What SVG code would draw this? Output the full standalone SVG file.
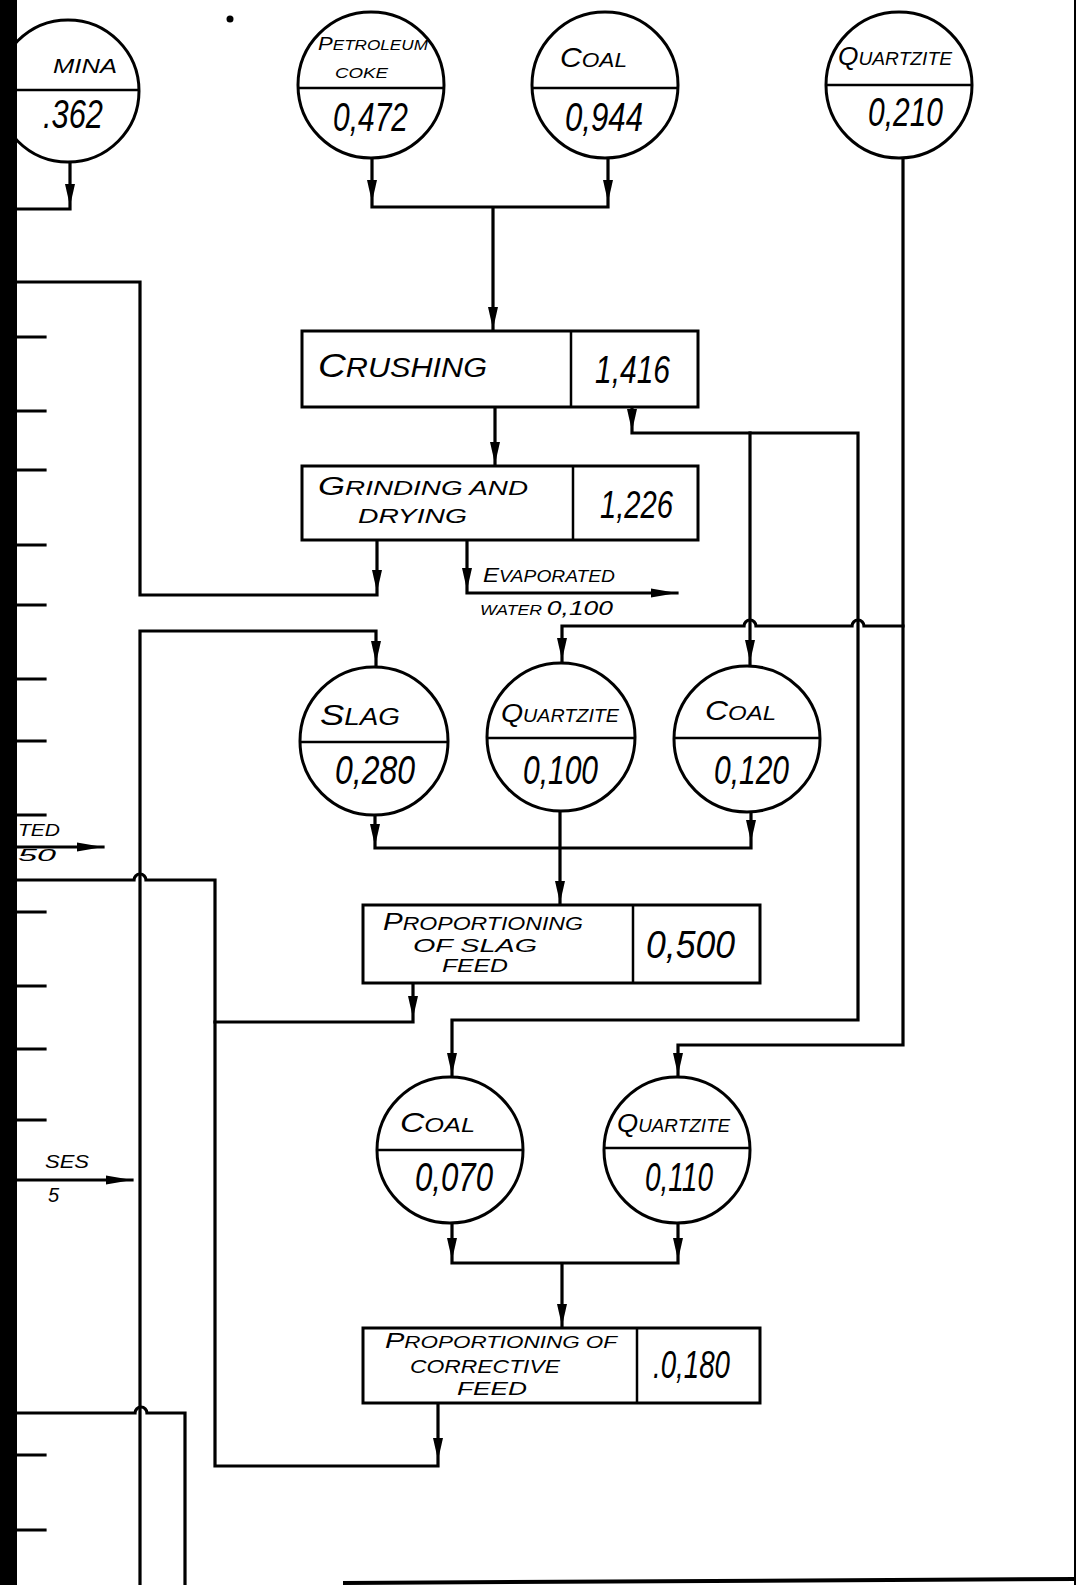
<svg xmlns="http://www.w3.org/2000/svg" xmlns:xlink="http://www.w3.org/1999/xlink" width="1076" height="1585" viewBox="0 0 1076 1585">
<style>
.ln{fill:none;stroke:#000;stroke-width:3.2;stroke-linejoin:miter;stroke-linecap:square}
.nd{fill:#fff;stroke:#000;stroke-width:3}
.dv{stroke:#000;stroke-width:2.5}
.t{font-family:"Liberation Sans",Arial,sans-serif;font-style:italic;fill:#000}
.v{font-size:40px}
.bv{font-size:39px}
</style>
<defs>
<path id="ad" d="M0,0 L-5,-22 L5,-22 Z" fill="#000"/>
<path id="ar" d="M0,0 L-26,-4.5 L-26,4.5 Z" fill="#000"/>
</defs>
<rect width="1076" height="1585" fill="#fff"/>

<g id="connectors">
<path class="ln" d="M70,162 V209 H18"/>
<path class="ln" d="M372,158 V207 H608 M608,158 V207 M493,207 V331"/>
<path class="ln" d="M495,407 V466"/>
<path class="ln" d="M632,407 V433 H858 V1020 H452 V1077"/>
<path class="ln" d="M750,433 V664"/>
<path class="ln" d="M903,158 V1045 H678 V1077"/>
<path class="ln" d="M903,626 H864 a6,6 0 0 0 -12,0 H756 a6,6 0 0 0 -12,0 H562 V663"/>
<path class="ln" d="M377,540 V595 H140 V282 H18"/>
<path class="ln" d="M467,540 V593 H677"/>
<path class="ln" d="M376,666 V631 H140 V1585"/>
<path class="ln" d="M375,814 V848 H751 M751,812 V848 M560,811 V905"/>
<path class="ln" d="M413,983 V1022 H215"/>
<path class="ln" d="M18,880 H134 a6,6 0 0 1 12,0 H215 V1466 H438 V1403"/>
<path class="ln" d="M452,1223 V1263 H678 M678,1223 V1263 M562,1263 V1328"/>
<path class="ln" d="M18,1413 H135 a6,6 0 0 1 12,0 H185 V1585"/>
<path class="ln" d="M18,847 H103 M18,1180 H132"/>
<path class="ln" d="M18,337 H45 M18,411 H45 M18,470 H45 M18,545 H45 M18,605 H45 M18,679 H45 M18,741 H45 M18,815 H45 M18,912 H45 M18,986 H45 M18,1049 H45 M18,1120 H45 M18,1455 H45 M18,1530 H45"/>
<use href="#ad" x="70" y="206"/>
<use href="#ad" x="372" y="202"/>
<use href="#ad" x="608" y="202"/>
<use href="#ad" x="493" y="329"/>
<use href="#ad" x="495" y="464"/>
<use href="#ad" x="632" y="431"/>
<use href="#ad" x="377" y="592"/>
<use href="#ad" x="467" y="590"/>
<use href="#ar" x="677" y="593"/>
<use href="#ad" x="376" y="663"/>
<use href="#ad" x="562" y="660"/>
<use href="#ad" x="750" y="662"/>
<use href="#ad" x="375" y="846"/>
<use href="#ad" x="751" y="842"/>
<use href="#ad" x="560" y="903"/>
<use href="#ad" x="413" y="1018"/>
<use href="#ad" x="452" y="1075"/>
<use href="#ad" x="678" y="1075"/>
<use href="#ad" x="452" y="1260"/>
<use href="#ad" x="678" y="1260"/>
<use href="#ad" x="562" y="1326"/>
<use href="#ad" x="438" y="1460"/>
<use href="#ar" x="103" y="847"/>
<use href="#ar" x="132" y="1180"/>
</g>

<g id="alumina">
<circle class="nd" cx="68" cy="91" r="71"/>
<line class="dv" x1="-3" y1="90" x2="139" y2="90"/>
<text class="t" x="53" y="73" font-size="21" textLength="64" lengthAdjust="spacingAndGlyphs">MINA</text>
<text class="t v" x="43" y="128" textLength="60" lengthAdjust="spacingAndGlyphs">.362</text>
</g>

<g id="petroleum-coke">
<circle class="nd" cx="371" cy="85" r="73"/>
<line class="dv" x1="298" y1="88" x2="444" y2="88"/>
<text class="t" x="318" y="50" textLength="110" lengthAdjust="spacingAndGlyphs"><tspan font-size="18">P</tspan><tspan font-size="14">ETROLEUM</tspan></text>
<text class="t" x="335" y="78" font-size="15" textLength="53" lengthAdjust="spacingAndGlyphs">COKE</text>
<text class="t v" x="333" y="131" textLength="75" lengthAdjust="spacingAndGlyphs">0,472</text>
</g>

<g id="coal-top">
<circle class="nd" cx="605" cy="85" r="73"/>
<line class="dv" x1="532" y1="88" x2="678" y2="88"/>
<text class="t" x="560" y="67" textLength="67" lengthAdjust="spacingAndGlyphs"><tspan font-size="28">C</tspan><tspan font-size="21">OAL</tspan></text>
<text class="t v" x="565" y="131" textLength="78" lengthAdjust="spacingAndGlyphs">0,944</text>
</g>

<g id="quartzite-top">
<circle class="nd" cx="899" cy="85" r="73"/>
<line class="dv" x1="826" y1="85" x2="972" y2="85"/>
<text class="t" x="838" y="65" textLength="114" lengthAdjust="spacingAndGlyphs"><tspan font-size="26">Q</tspan><tspan font-size="19">UARTZITE</tspan></text>
<text class="t v" x="868" y="126" textLength="75" lengthAdjust="spacingAndGlyphs">0,210</text>
</g>

<g id="crushing">
<rect class="nd" x="302" y="331" width="396" height="76"/>
<line class="dv" x1="571" y1="331" x2="571" y2="407"/>
<text class="t" x="318" y="377" textLength="169" lengthAdjust="spacingAndGlyphs"><tspan font-size="34">C</tspan><tspan font-size="27">RUSHING</tspan></text>
<text class="t bv" x="595" y="383" textLength="75" lengthAdjust="spacingAndGlyphs">1,416</text>
</g>

<g id="grinding-drying">
<rect class="nd" x="302" y="466" width="396" height="74"/>
<line class="dv" x1="573" y1="466" x2="573" y2="540"/>
<text class="t" x="318" y="495" textLength="210" lengthAdjust="spacingAndGlyphs"><tspan font-size="25">G</tspan><tspan font-size="20">RINDING   AND</tspan></text>
<text class="t" x="358" y="523" font-size="20" textLength="109" lengthAdjust="spacingAndGlyphs">DRYING</text>
<text class="t bv" x="600" y="518" textLength="73" lengthAdjust="spacingAndGlyphs">1,226</text>
</g>

<g id="evaporated-water">
<text class="t" x="483" y="582" textLength="132" lengthAdjust="spacingAndGlyphs"><tspan font-size="20">E</tspan><tspan font-size="16">VAPORATED</tspan></text>
<text class="t" x="480" y="615" textLength="133" lengthAdjust="spacingAndGlyphs"><tspan font-size="14">WATER </tspan><tspan font-size="21">0,100</tspan></text>
</g>

<g id="slag">
<circle class="nd" cx="374" cy="741" r="74"/>
<line class="dv" x1="300" y1="742" x2="448" y2="742"/>
<text class="t" x="320" y="725" textLength="80" lengthAdjust="spacingAndGlyphs"><tspan font-size="30">S</tspan><tspan font-size="23">LAG</tspan></text>
<text class="t v" x="335" y="784" textLength="80" lengthAdjust="spacingAndGlyphs">0,280</text>
</g>

<g id="quartzite-mid">
<circle class="nd" cx="561" cy="737" r="74"/>
<line class="dv" x1="487" y1="738" x2="635" y2="738"/>
<text class="t" x="501" y="722" textLength="118" lengthAdjust="spacingAndGlyphs"><tspan font-size="26">Q</tspan><tspan font-size="18">UARTZITE</tspan></text>
<text class="t v" x="523" y="784" textLength="75" lengthAdjust="spacingAndGlyphs">0,100</text>
</g>

<g id="coal-mid">
<circle class="nd" cx="747" cy="739" r="73"/>
<line class="dv" x1="674" y1="738" x2="820" y2="738"/>
<text class="t" x="705" y="720" textLength="71" lengthAdjust="spacingAndGlyphs"><tspan font-size="28">C</tspan><tspan font-size="21">OAL</tspan></text>
<text class="t v" x="714" y="784" textLength="75" lengthAdjust="spacingAndGlyphs">0,120</text>
</g>

<g id="slag-feed">
<rect class="nd" x="363" y="905" width="397" height="78"/>
<line class="dv" x1="633" y1="905" x2="633" y2="983"/>
<text class="t" x="383" y="930" textLength="200" lengthAdjust="spacingAndGlyphs"><tspan font-size="23">P</tspan><tspan font-size="18">ROPORTIONING</tspan></text>
<text class="t" x="413" y="952" font-size="18" textLength="124" lengthAdjust="spacingAndGlyphs">OF   SLAG</text>
<text class="t" x="442" y="972" font-size="18" textLength="66" lengthAdjust="spacingAndGlyphs">FEED</text>
<text class="t bv" x="646" y="958" textLength="89" lengthAdjust="spacingAndGlyphs">0,500</text>
</g>

<g id="coal-bottom">
<circle class="nd" cx="450" cy="1150" r="73"/>
<line class="dv" x1="377" y1="1150" x2="523" y2="1150"/>
<text class="t" x="400" y="1132" textLength="75" lengthAdjust="spacingAndGlyphs"><tspan font-size="28">C</tspan><tspan font-size="21">OAL</tspan></text>
<text class="t v" x="415" y="1191" textLength="78" lengthAdjust="spacingAndGlyphs">0,070</text>
</g>

<g id="quartzite-bottom">
<circle class="nd" cx="677" cy="1150" r="73"/>
<line class="dv" x1="604" y1="1148" x2="750" y2="1148"/>
<text class="t" x="617" y="1132" textLength="113" lengthAdjust="spacingAndGlyphs"><tspan font-size="26">Q</tspan><tspan font-size="18">UARTZITE</tspan></text>
<text class="t v" x="645" y="1191" textLength="68" lengthAdjust="spacingAndGlyphs">0,110</text>
</g>

<g id="corrective-feed">
<rect class="nd" x="363" y="1328" width="397" height="75"/>
<line class="dv" x1="637" y1="1328" x2="637" y2="1403"/>
<text class="t" x="385" y="1348" textLength="232" lengthAdjust="spacingAndGlyphs"><tspan font-size="22">P</tspan><tspan font-size="17">ROPORTIONING OF</tspan></text>
<text class="t" x="410" y="1373" font-size="18" textLength="150" lengthAdjust="spacingAndGlyphs">CORRECTIVE</text>
<text class="t" x="457" y="1395" font-size="18" textLength="70" lengthAdjust="spacingAndGlyphs">FEED</text>
<text class="t bv" x="653" y="1378" textLength="77" lengthAdjust="spacingAndGlyphs">.0,180</text>
</g>

<g id="left-labels">
<text class="t" x="18" y="836" font-size="17" textLength="42" lengthAdjust="spacingAndGlyphs">TED</text>
<text class="t" x="18" y="861" font-size="17" textLength="38" lengthAdjust="spacingAndGlyphs">50</text>
<text class="t" x="45" y="1168" font-size="19" textLength="44" lengthAdjust="spacingAndGlyphs">SES</text>
<text class="t" x="48" y="1202" font-size="20">5</text>
</g>

<g id="frame">
<rect x="0" y="0" width="17" height="1585" fill="#000"/>
<line x1="1075" y1="0" x2="1075" y2="1585" stroke="#000" stroke-width="2"/>
<line x1="343" y1="1583" x2="1076" y2="1579" stroke="#000" stroke-width="4"/>
<circle cx="230" cy="19" r="3.5" fill="#000"/>
</g>
</svg>
